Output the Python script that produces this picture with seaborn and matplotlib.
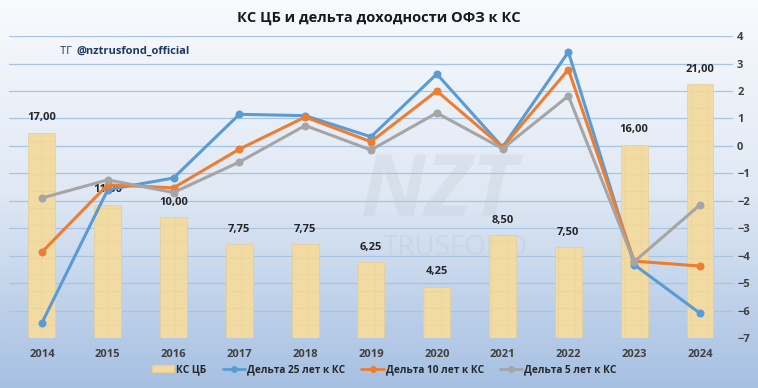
import numpy as np
import pandas as pd
import matplotlib
matplotlib.use("Agg")
import matplotlib.pyplot as plt
import seaborn as sns
from matplotlib.patches import Patch
from matplotlib.lines import Line2D

years = ["2014", "2015", "2016", "2017", "2018", "2019", "2020", "2021", "2022", "2023", "2024"]
key_rate = [17.00, 11.00, 10.00, 7.75, 7.75, 6.25, 4.25, 8.50, 7.50, 16.00, 21.00]
delta_25 = [-6.45, -1.6, -1.17, 1.15, 1.1, 0.33, 2.62, -0.05, 3.42, -4.33, -6.1]
delta_10 = [-3.87, -1.42, -1.53, -0.12, 1.05, 0.15, 2.0, -0.05, 2.78, -4.2, -4.38]
delta_5 = [-1.9, -1.24, -1.7, -0.59, 0.74, -0.15, 1.2, -0.1, 1.82, -4.22, -2.15]

sns.set_theme(style="white")
plt.rcParams['font.family'] = ['Open Sans', 'DejaVu Sans']
plt.rcParams['hatch.color'] = "#ead49c"
plt.rcParams['hatch.linewidth'] = 0.3

bar_df = pd.DataFrame({"year": years, "rate": key_rate})
line_df = pd.DataFrame({
    "pos": np.arange(len(years)),
    "Дельта 25 лет к КС": delta_25,
    "Дельта 10 лет к КС": delta_10,
    "Дельта 5 лет к КС": delta_5,
})

fig = plt.figure(figsize=(7.58, 3.88), dpi=100)

# background gradient + faint watermark
bg = fig.add_axes([0, 0, 1, 1], zorder=-10)
grad = np.linspace(0, 1, 256).reshape(-1, 1)
cmap = matplotlib.colors.LinearSegmentedColormap.from_list("bg", ["#f8fafd", "#dfe8f4", "#a6c0e2"])
bg.imshow(grad, aspect="auto", cmap=cmap, extent=[0, 1, 0, 1])
bg.axis("off")
bg.text(0.58, 0.5, "NZT", fontsize=62, fontweight="bold", style="italic",
        color="#a0aab4", alpha=0.14, ha="center", va="center")
bg.text(0.6, 0.36, "TRUSFOND", fontsize=20, color="#a0aab4", alpha=0.14,
        ha="center", va="center")

ax = fig.add_axes([0.0119, 0.129, 0.955, 0.778])
ax.patch.set_alpha(0)
sns.barplot(data=bar_df, x="year", y="rate", ax=ax, color="#f2dba3", width=0.41,
            edgecolor="#e6cd93", linewidth=0.5, saturation=1, zorder=2)
for p in ax.patches:
    p.set_hatch("+")
ax.set_ylim(0, 25)
ax.set_xlim(-0.5, 10.5)
ax.set_yticks(np.linspace(0, 25, 12))
ax.set_yticklabels([])
ax.grid(axis="y", color="#a9c3e3", linewidth=0.9, zorder=0)
ax.set_axisbelow(True)
ax.tick_params(axis="x", length=0, pad=8, labelsize=8, labelcolor="#404040")
for t in ax.get_xticklabels():
    t.set_fontweight("bold")
ax.tick_params(axis="y", length=0)
ax.set_xlabel("")
ax.set_ylabel("")
for s in ax.spines.values():
    s.set_visible(False)
for i, v in enumerate(key_rate):
    ax.text(i, v + 0.8, f"{v:.2f}".replace(".", ","), ha="center", va="bottom",
            fontsize=8, fontweight="bold", color="#262626")

ax2 = ax.twinx()
colors = {"Дельта 25 лет к КС": "#5b9bd5", "Дельта 10 лет к КС": "#ed7d31", "Дельта 5 лет к КС": "#a5a5a5"}
for name, c in colors.items():
    sns.lineplot(data=line_df, x="pos", y=name, ax=ax2, color=c, linewidth=2.2,
                 marker="o", markersize=5, markeredgecolor=c, zorder=3)
ax2.set_ylim(-7, 4)
ax2.set_yticks(range(-7, 5))
ax2.tick_params(axis="y", length=0, pad=3, labelsize=8, labelcolor="#404040")
for t in ax2.get_yticklabels():
    t.set_fontweight("bold")
ax2.set_ylabel("")
ax2.set_xlabel("")
ax2.grid(False)
for s in ax2.spines.values():
    s.set_visible(False)
ax2.set_xlim(-0.5, 10.5)

fig.text(0.5, 0.953, "КС ЦБ и дельта доходности ОФЗ к КС", ha="center", va="center",
         fontsize=10.5, fontweight="bold", color="#1a1a1a")
fig.text(0.079, 0.867, "ТГ ", ha="left", va="center", fontsize=8, color="#1f3864")
fig.text(0.101, 0.867, "@nztrusfond_official", ha="left", va="center", fontsize=8,
         fontweight="bold", color="#1f3864")

handles = [Patch(facecolor="#f2dba3", edgecolor="#e6cd93", label="КС ЦБ")]
for name, c in colors.items():
    handles.append(Line2D([0], [0], color=c, linewidth=2, marker="o", markersize=4, label=name))
leg = fig.legend(handles=handles, loc="center", bbox_to_anchor=(0.507, 0.047), ncol=4,
                 frameon=False, fontsize=7.3, handlelength=2.2, columnspacing=1.6,
                 handletextpad=0.2)
for t in leg.get_texts():
    t.set_fontweight("bold")
    t.set_color("#262626")

fig.savefig("out.png", dpi=100)
